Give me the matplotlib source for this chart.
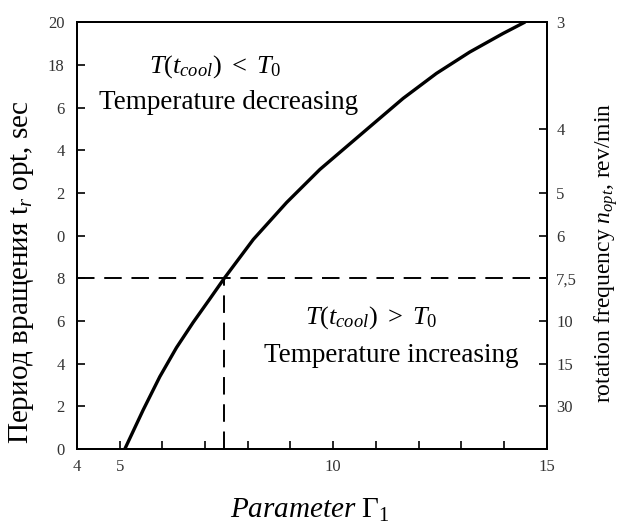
import matplotlib
matplotlib.use("Agg")
import matplotlib.pyplot as plt

plt.rcParams['font.family'] = ['Liberation Serif', 'DejaVu Serif']
plt.rcParams['mathtext.fontset'] = 'custom'
plt.rcParams['mathtext.rm'] = 'Liberation Serif'
plt.rcParams['mathtext.it'] = 'Liberation Serif:italic'

# Curve
gamma = [5.12, 5.55, 5.94, 6.33, 6.72, 7.11, 7.45, 8.13, 8.91, 9.69, 10.86, 11.64, 12.42, 13.2, 13.98, 14.49]
t_opt = [0.0, 1.83, 3.39, 4.75, 5.93, 7.03, 8.0, 9.82, 11.55, 13.1, 15.1, 16.43, 17.6, 18.6, 19.47, 20.0]

# Operating point
gamma_op = 7.45
t_op = 8.0

# Axis ticks
left_ticks = [0, 2, 4, 6, 8, 10, 12, 14, 16, 18, 20]
left_labels = ["0", "2", "4", "6", "8", "0", "2", "4", "6", "18", "20"]
x_major = [4, 5, 10, 15]
x_major_labels = ["4", "5", "10", "15"]
x_minor = [6, 7, 8, 9, 11, 12, 13, 14]
rev_min = [3, 4, 5, 6, 7.5, 10, 15, 30]
rev_labels = ["3", "4", "5", "6", "7,5", "10", "15", "30"]

fig = plt.figure(figsize=(6.19, 5.28), dpi=100)
ax = fig.add_axes([0.1244, 0.1496, 0.883 - 0.1244, 0.958 - 0.1496])
ax.set_xlim(4, 15)
ax.set_ylim(0, 20)

ax.plot(gamma, t_opt, color='black', lw=2.4, solid_capstyle='round', solid_joinstyle='round')
ax.plot([4, 15], [t_op, t_op], color='black', lw=1.4, dashes=(9, 5), clip_on=False)
ax.plot([gamma_op, gamma_op], [0, t_op], color='black', lw=1.4, dashes=(9, 5))

for s in ax.spines.values():
    s.set_linewidth(1.4)

ax.set_yticks(left_ticks)
ax.set_yticklabels(left_labels)
ax.set_xticks(x_major)
ax.set_xticklabels(x_major_labels)
ax.set_xticks(x_minor, minor=True)
ax.tick_params(axis='both', which='both', direction='in', length=6, width=1.2,
               labelsize=12, labelcolor='#333333')
ax.tick_params(axis='y', pad=9)
ax.tick_params(axis='x', pad=7)

ax2 = ax.twinx()
ax2.set_ylim(0, 20)
ax2.set_yticks([60.0 / n for n in rev_min])
ax2.set_yticklabels(rev_labels)
ax2.tick_params(axis='y', direction='in', length=6, width=1.2, labelsize=12,
                labelcolor='#333333', pad=7)
for s in ax2.spines.values():
    s.set_linewidth(1.4)

ax.set_ylabel(r"Период вращения t$_{r}$ opt, sec", fontsize=21)
ax.yaxis.set_label_coords(-0.087, 0.415)
ax2.set_ylabel(r"rotation frequency $n_{opt}$, rev/min", fontsize=17)
ax2.yaxis.set_label_coords(1.098, 0.46)
ax.set_xlabel(r"$Parameter\ \Gamma_{1}$", fontsize=21)
ax.xaxis.set_label_coords(0.496, -0.112)

ax.text(7.23, 17.94, r"$T(t_{cool})\ <\ T_{0}$", fontsize=19, ha='center', va='center')
ax.text(7.56, 16.25, "Temperature decreasing", fontsize=19.5, ha='center', va='center')
ax.text(10.89, 6.18, r"$T(t_{cool})\ >\ T_{0}$", fontsize=19, ha='center', va='center')
ax.text(11.35, 4.4, "Temperature increasing", fontsize=19.5, ha='center', va='center')

fig.savefig("out.png", dpi=100)
